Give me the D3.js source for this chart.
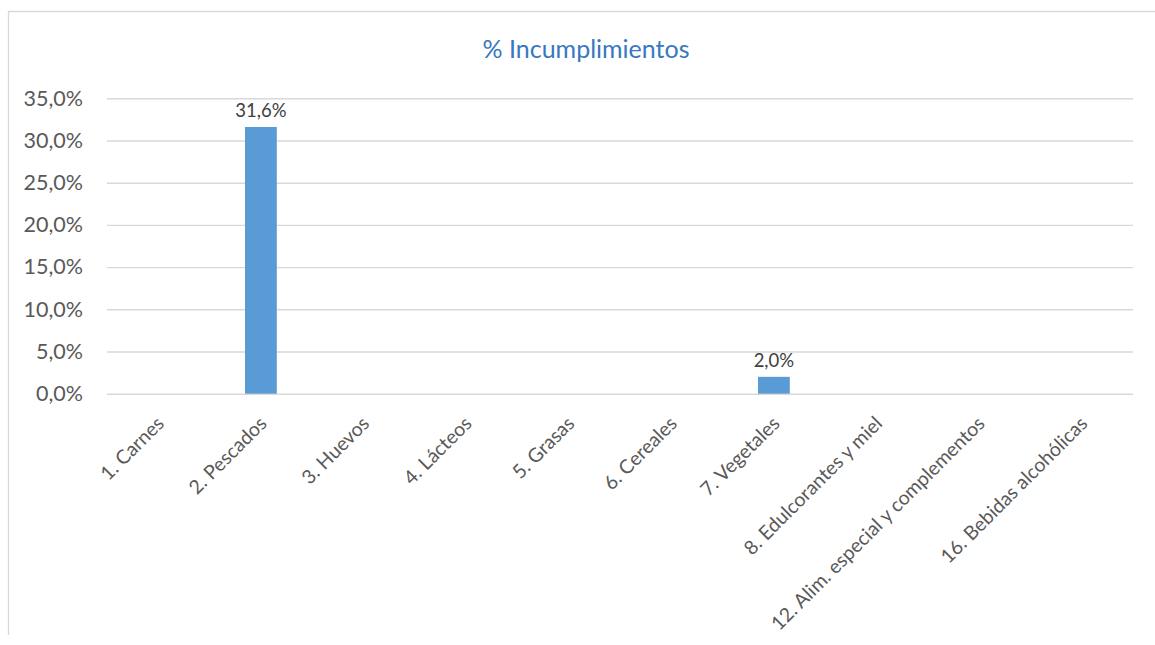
<!DOCTYPE html>
<html>
<head>
<meta charset="utf-8">
<script src="https://cdn.jsdelivr.net/npm/d3@7"></script>
<style>
  body { margin: 0; background: #fff; }
  text { font-family: Lato, "Open Sans", sans-serif; fill: #595959; }
</style>
</head>
<body>
<div id="chart"></div>
<script>
// categorias y valores (% incumplimientos)
var categories = ["1. Carnes", "2. Pescados", "3. Huevos", "4. Lácteos", "5. Grasas",
                  "6. Cereales", "7. Vegetales", "8. Edulcorantes y miel",
                  "12. Alim. especial y complementos", "16. Bebidas alcohólicas"];
var values = [null, 0.316, null, null, null, null, 0.02, null, null, null];
var yTicks = [0, 0.05, 0.10, 0.15, 0.20, 0.25, 0.30, 0.35];
var title = "% Incumplimientos";

var width = 1155, height = 645;

var locale = d3.formatLocale({decimal: ",", thousands: ".", grouping: [3], currency: ["", "€"]});
var pct = locale.format(".1%");

var svg = d3.select("#chart").append("svg")
    .attr("width", width)
    .attr("height", height);

// marco del grafico
svg.append("line").attr("x1", 8.5).attr("x2", 8.5).attr("y1", 11).attr("y2", 635)
    .style("stroke", "#d9d9d9").style("stroke-width", 1.3);
svg.append("line").attr("x1", 8).attr("x2", width).attr("y1", 11.5).attr("y2", 11.5)
    .style("stroke", "#d9d9d9").style("stroke-width", 1.3);

var x = d3.scaleBand().domain(categories).range([107, 1133]).paddingInner(0.69).paddingOuter(0.345);
var y = d3.scaleLinear().domain([0, 0.35]).range([393.7, 98.3]);

// titulo
svg.append("text")
    .attr("x", 586).attr("y", 58)
    .attr("text-anchor", "middle")
    .style("font-size", "25px")
    .style("fill", "#3778c0")
    .text(title);

// eje y con lineas de cuadricula
var yAxis = svg.append("g")
    .attr("transform", "translate(107,0)")
    .call(d3.axisLeft(y).tickValues(yTicks).tickFormat(pct).tickSize(-1026).tickPadding(24));
yAxis.select(".domain").remove();
yAxis.selectAll(".tick line").style("stroke", "#d9d9d9").style("stroke-width", 1.4);
yAxis.selectAll(".tick text").style("font-size", "21.5px").style("fill", "#595959");

// barras
var barData = categories.map(function(c, i) { return {cat: c, v: values[i]}; })
    .filter(function(d) { return d.v != null; });

svg.selectAll("rect.bar").data(barData).enter().append("rect")
    .attr("class", "bar")
    .attr("x", function(d) { return x(d.cat); })
    .attr("width", x.bandwidth())
    .attr("y", function(d) { return y(d.v); })
    .attr("height", function(d) { return y(0) - y(d.v); })
    .style("fill", "#5b9bd5");

// etiquetas de datos
svg.selectAll("text.lbl").data(barData).enter().append("text")
    .attr("class", "lbl")
    .attr("x", function(d) { return x(d.cat) + x.bandwidth() / 2; })
    .attr("y", function(d) { return y(d.v) - 10; })
    .attr("text-anchor", "middle")
    .style("font-size", "18.5px")
    .style("fill", "#404040")
    .text(function(d) { return pct(d.v); });

// eje x con etiquetas giradas
var xAxis = svg.append("g")
    .attr("transform", "translate(0," + y(0) + ")")
    .call(d3.axisBottom(x).tickSize(0).tickPadding(0));
xAxis.select(".domain").remove();
xAxis.selectAll(".tick text")
    .attr("text-anchor", "end")
    .attr("dy", 0)
    .attr("transform", "translate(7,31) rotate(-45)")
    .style("font-size", "19.5px")
    .style("fill", "#595959");
</script>
</body>
</html>
